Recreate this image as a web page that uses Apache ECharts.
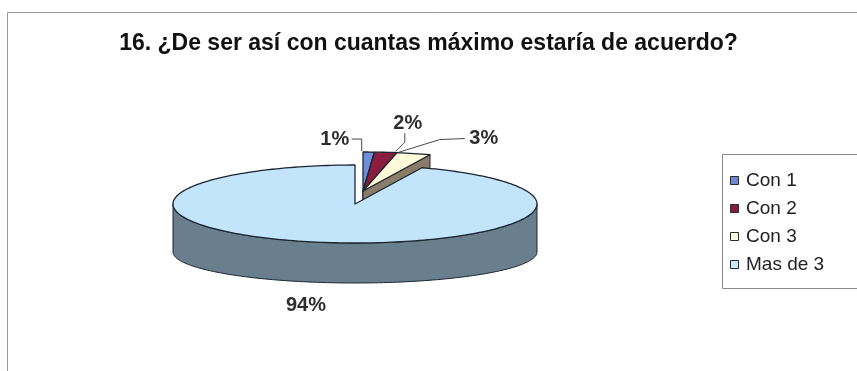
<!DOCTYPE html>
<html>
<head>
<meta charset="utf-8">
<script src="https://cdn.jsdelivr.net/npm/echarts@6/dist/echarts.min.js"></script>
<style>
  html, body { margin: 0; padding: 0; background: #ffffff; }
  #chart { width: 857px; height: 371px; }
</style>
</head>
<body>
<div id="chart"></div>
<script>
// ---- data ----
const TITLE = '16. ¿De ser así con cuantas máximo estaría de acuerdo?';
const CATEGORIES = ['Con 1', 'Con 2', 'Con 3', 'Mas de 3'];
const VALUES = [1, 2, 3, 94];
const LABELS = VALUES.map(v => v + '%');

// ---- styling ----
const TOP_COLORS = ['#6f8dd8', '#8a1c40', '#fffbd9', '#c3e5fb'];
const SIDE_COLORS = ['#3b4c86', '#55102a', '#8a7c68', '#697f8d'];
const LEGEND_COLORS = ['#7088d4', '#8b1a3c', '#fffde4', '#c6ebff'];
const EDGE = '#1b2631';
const FONT = '"Liberation Sans", Arial, sans-serif';

// tilted pie: centre and radii of the top ellipse, offset and vertical
// radius of the (flatter, perspective) bottom ellipse
const PIE = { cx: 355, cy: 204, rx: 182, ry: 39, depth: 48, ryBottom: 31 };
// small slices are pulled out together towards the back
const SHIFT = [[8, -13], [8, -13], [8, -13], [0, 0]];
// label offset from the rim point at the slice's mid angle, plus leader route
const LABEL_LAYOUT = [
  { dx: -34, dy: -13, leader: 'elbowRight' },
  { dx: 22, dy: -29, leader: 'down' },
  { dx: 70, dy: -15, leader: 'elbowLeft' },
  { dx: -15, dy: 63, leader: 'none' }
];

const TOTAL = VALUES.reduce((a, b) => a + b, 0);
const RAD = Math.PI / 180;

function renderSlice(params, api) {
  const i = params.dataIndex;
  let before = 0;
  for (let k = 0; k < i; k++) before += VALUES[k];
  const a0 = before / TOTAL * 360;
  const a1 = (before + api.value(0)) / TOTAL * 360;
  const cx = PIE.cx + SHIFT[i][0];
  const cy = PIE.cy + SHIFT[i][1];
  const D = PIE.depth;

  // point on the top rim (low = false) or bottom rim (low = true)
  const pt = (deg, low) => low
    ? [cx + PIE.rx * Math.sin(deg * RAD), cy + D - PIE.ryBottom * Math.cos(deg * RAD)]
    : [cx + PIE.rx * Math.sin(deg * RAD), cy - PIE.ry * Math.cos(deg * RAD)];
  const arc = (s, e, low) => {
    const n = Math.max(2, Math.ceil((e - s) / 1.5));
    const out = [];
    for (let j = 0; j <= n; j++) out.push(pt(s + (e - s) * j / n, low));
    return out;
  };
  const poly = (points, fill) => ({
    type: 'polygon',
    shape: { points },
    style: { fill, stroke: EDGE, lineWidth: 1, lineJoin: 'round' }
  });

  const children = [];
  const apex = [cx, cy];
  const apexLow = [cx, cy + D];

  // cut faces that turn towards the viewer
  if (Math.sin(a0 * RAD) < -1e-6) {
    children.push(poly([apex, pt(a0, false), pt(a0, true), apexLow], SIDE_COLORS[i]));
  }
  if (Math.sin(a1 * RAD) > 1e-6) {
    children.push(poly([apex, pt(a1, false), pt(a1, true), apexLow], SIDE_COLORS[i]));
  }
  // front part of the outer wall
  const ws = Math.max(a0, 90), we = Math.min(a1, 270);
  if (we > ws) {
    children.push(poly(arc(ws, we, false).concat(arc(ws, we, true).reverse()), SIDE_COLORS[i]));
  }
  // top face
  const top = poly([apex].concat(arc(a0, a1, false)), TOP_COLORS[i]);
  top.style.lineWidth = 1.3;
  children.push(top);

  // value label
  const mid = (a0 + a1) / 2;
  const anchor = pt(mid, false);
  const lay = LABEL_LAYOUT[i];
  const lx = anchor[0] + lay.dx, ly = anchor[1] + lay.dy;
  children.push({
    type: 'text',
    style: {
      text: LABELS[i], x: lx, y: ly, align: 'center', verticalAlign: 'middle',
      font: 'bold 20px ' + FONT, fill: '#2e2e2e'
    }
  });
  let leader = null;
  if (lay.leader === 'elbowRight') {
    leader = [[lx + 17, ly], [anchor[0] - 7, ly], [anchor[0] - 7, anchor[1] - 1]];
  } else if (lay.leader === 'down') {
    leader = [[lx - 3, ly + 10], [lx - 3, ly + 19], [anchor[0] + 10, anchor[1] - 1]];
  } else if (lay.leader === 'elbowLeft') {
    leader = [[lx - 19, ly], [lx - 44, ly + 1], [anchor[0] - 16, anchor[1] - 1]];
  }
  if (leader) {
    children.push({
      type: 'polyline',
      shape: { points: leader },
      style: { stroke: '#4a4a4a', lineWidth: 1, fill: null }
    });
  }
  return { type: 'group', children };
}

// legend box drawn from the categories
const legendItems = [{
  type: 'rect',
  shape: { x: 722.5, y: 154.5, width: 200, height: 134 },
  style: { fill: '#ffffff', stroke: '#8a8a8a', lineWidth: 1 }
}];
CATEGORIES.forEach((name, i) => {
  const y = 181 + i * 28;
  legendItems.push({
    type: 'rect',
    shape: { x: 730.5, y: y - 4.5, width: 8, height: 8 },
    style: { fill: LEGEND_COLORS[i], stroke: '#2a2a2a', lineWidth: 1 }
  });
  legendItems.push({
    type: 'text',
    style: {
      text: name, x: 746, y: y, verticalAlign: 'middle',
      font: '19px ' + FONT, fill: '#222222'
    }
  });
});

const chart = echarts.init(document.getElementById('chart'), null, { renderer: 'canvas' });
chart.setOption({
  backgroundColor: '#ffffff',
  animation: false,
  title: {
    text: TITLE,
    left: 'center',
    top: 27,
    textStyle: { fontFamily: FONT, fontSize: 23, fontWeight: 'bold', color: '#111111' }
  },
  graphic: [
    {
      type: 'rect',
      z: -1,
      shape: { x: 7.5, y: 12.5, width: 1000, height: 1000 },
      style: { fill: 'none', stroke: '#9c9c9c', lineWidth: 1 }
    }
  ].concat(legendItems),
  series: [{
    type: 'custom',
    coordinateSystem: 'none',
    silent: true,
    renderItem: renderSlice,
    data: VALUES.map((v, i) => ({ name: CATEGORIES[i], value: v }))
  }]
});
</script>
</body>
</html>
